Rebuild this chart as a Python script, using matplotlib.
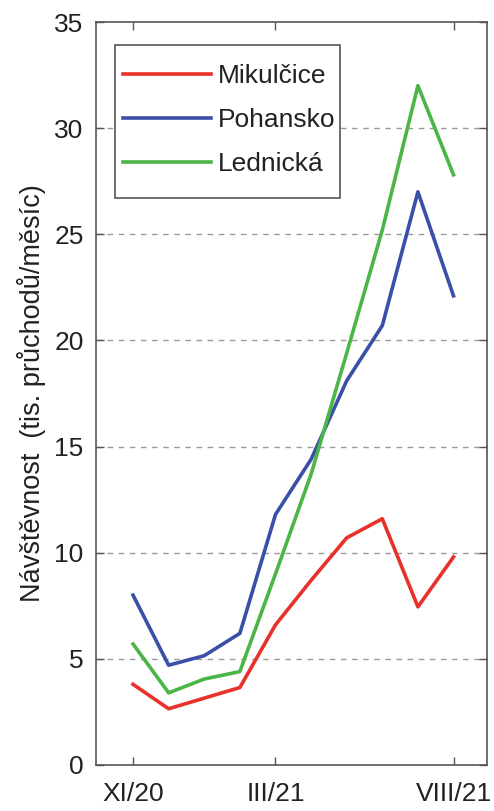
import matplotlib
matplotlib.use("Agg")
import matplotlib.pyplot as plt
from matplotlib.patches import Rectangle

months = ["XI/20", "XII/20", "I/21", "II/21", "III/21", "IV/21", "V/21", "VI/21", "VII/21", "VIII/21"]
mikulcice = [3.8, 2.65, 3.15, 3.65, 6.6, 8.7, 10.7, 11.6, 7.45, 9.8]
pohansko = [8.0, 4.7, 5.15, 6.2, 11.8, 14.4, 18.1, 20.7, 27.0, 22.1]
lednicka = [5.7, 3.4, 4.05, 4.4, 9.0, 13.7, 19.4, 25.2, 32.0, 27.8]
tick_months = ["XI/20", "III/21", "VIII/21"]
yticks = [0, 5, 10, 15, 20, 25, 30, 35]

plt.rcParams['font.family'] = ['Liberation Sans', 'DejaVu Sans']

fig = plt.figure(figsize=(4.94, 8.11), dpi=100)
ax = fig.add_axes([96/494, 46/811, (487-96)/494, (765-22)/811])

x = list(range(len(months)))
ax.plot(x, mikulcice, color="#e8312a", lw=2.6, label="Mikulčice")
ax.plot(x, pohansko, color="#3a50a8", lw=2.6, label="Pohansko")
ax.plot(x, lednicka, color="#4cb548", lw=2.6, label="Lednická")

ax.set_xlim(-1.04, 9.94)
ax.set_ylim(0, 35)
ax.set_xticks([months.index(m) for m in tick_months])
ax.set_xticklabels(tick_months)
ax.set_yticks(yticks)
for y in yticks[1:-1]:
    ax.axhline(y, color="#9a9a9a", lw=1.0, ls=(0, (4, 4)), zorder=0)

ax.tick_params(direction="in", length=5.5, width=1, color="#555555",
               top=True, right=True, labelsize=19, labelcolor="#222222")
ax.tick_params(axis="x", pad=12)
ax.tick_params(axis="y", pad=9)
for s in ax.spines.values():
    s.set_color("#555555")
    s.set_linewidth(1.2)

ax.set_ylabel("Návštěvnost  (tis. průchodů/měsíc)", fontsize=19.5, labelpad=6,
              color="#222222")

# legend box
ax.add_patch(Rectangle(((115-96)/391, (765-198)/743), (340-115)/391, 153/743,
                       transform=ax.transAxes, facecolor="white",
                       edgecolor="#555555", lw=1.2, zorder=4))
leg = ax.legend(loc="center left", bbox_to_anchor=((123-96)/391, (765-120)/743),
                fontsize=19, frameon=False,
                handlelength=3.35, handletextpad=0.23, borderpad=0.0,
                labelspacing=0.76, borderaxespad=0)
leg.set_zorder(5)
for t in leg.get_texts():
    t.set_color("#222222")

fig.savefig("out.png", dpi=100)
